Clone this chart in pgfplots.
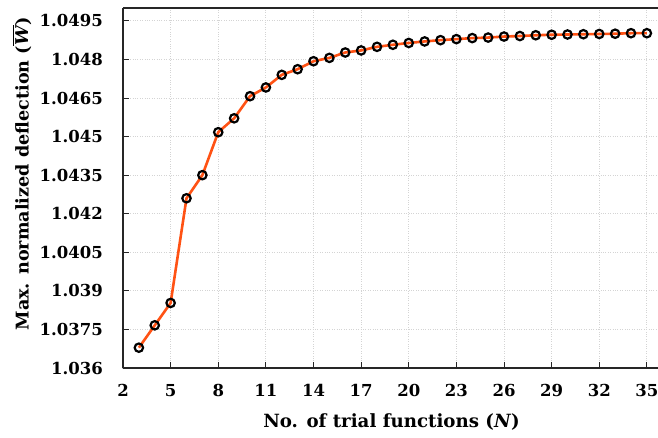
\documentclass[border=0pt]{standalone}
\usepackage{pgfplots}
\pgfplotsset{compat=1.18}
\usepackage{fontspec}
\setmainfont{DejaVu Serif}
\definecolor{curve}{RGB}{255,82,20}
\definecolor{gridgray}{RGB}{212,212,212}
\newcommand\Wbar{\vbox{\hrule height 1.2pt \kern2.2pt \hbox{\bfseries\itshape W\kern1pt}}}

\begin{document}
\begin{tikzpicture}
  \begin{axis}[
      scale only axis,
      width=535pt,
      height=360pt,
      xmin=2, xmax=35.7,
      ymin=1.036, ymax=1.05,
      axis x line=box,
      axis y line=left,
      y axis line style={-},
      axis line style={line width=1.2pt, black!85},
      xtick={2,5,...,35},
      xtick pos=bottom,
      ytick={1.036,1.0375,1.039,1.0405,1.042,1.0435,1.045,1.0465,1.048,1.0495},
      yticklabels={1.036,1.0375,1.039,1.0405,1.042,1.0435,1.045,1.0465,1.048,1.0495},
      tick align=inside,
      major tick length=6pt,
      tick style={line width=0.9pt, black!85},
      grid=major,
      major grid style={dotted, gridgray, line width=1pt},
      tick label style={font=\fontsize{16.5}{18}\selectfont\bfseries},
      /pgf/number format/assume math mode=true,
      yticklabel style={anchor=east, inner xsep=0pt, xshift=-20pt},
      xticklabel style={yshift=-13pt},
      xlabel={No. of trial functions (\textit{N})},
      ylabel={Max. normalized deflection (\Wbar)},
      xlabel style={font=\fontsize{18.2}{20}\selectfont\bfseries,
        at={(axis description cs:0.502,0)}, anchor=north, yshift=-42pt},
      ylabel style={font=\fontsize{17.6}{20}\selectfont\bfseries,
        at={(axis description cs:0,0.54)}, anchor=center, yshift=101pt},
    ]
    \addplot[color=curve, line width=2.6pt, mark=o,
      mark size=4.2pt,
      mark options={draw=black, fill=none, line width=2.2pt}]
    coordinates {
      (3,1.03679) (4,1.03766) (5,1.03853) (6,1.04260) (7,1.04350)
      (8,1.04517) (9,1.04571) (10,1.04657) (11,1.04691) (12,1.04740)
      (13,1.04762) (14,1.04793) (15,1.04806) (16,1.04827) (17,1.04835)
      (18,1.04849) (19,1.04857) (20,1.04864) (21,1.04870) (22,1.04875)
      (23,1.04879) (24,1.04883) (25,1.04885) (26,1.04889) (27,1.04891)
      (28,1.04894) (29,1.04896) (30,1.04897) (31,1.04898) (32,1.04899)
      (33,1.04900) (34,1.04902) (35,1.04902)
    };
  \end{axis}
  \pgfresetboundingbox
  \path ([xshift=-123pt,yshift=-69pt]current axis.south west)
    rectangle ([yshift=8pt]current axis.north east);
\end{tikzpicture}
\end{document}
